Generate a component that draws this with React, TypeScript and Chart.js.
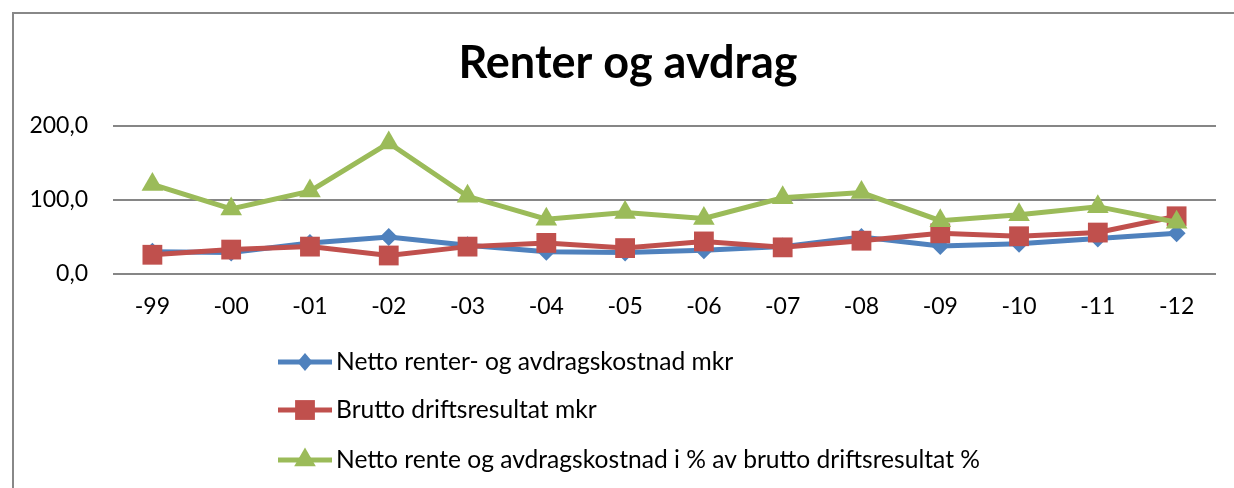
import React, { useEffect, useRef } from "react";
import { Chart, registerables } from "chart.js";

Chart.register(...registerables);

const categories = ["-99", "-00", "-01", "-02", "-03", "-04", "-05", "-06", "-07", "-08", "-09", "-10", "-11", "-12"];
const nettoRenter = [30, 29, 42, 50, 39, 30, 29, 32, 37, 50, 38, 41, 48, 55];
const bruttoDrift = [26, 33, 37, 25, 37, 42, 35, 44, 36, 45, 55, 51, 56, 78];
const nettoProsent = [121, 88, 112, 177, 105, 74, 83, 75, 103, 110, 72, 80, 91, 70];
const seriesNames = [
  "Netto renter- og avdragskostnad mkr",
  "Brutto driftsresultat mkr",
  "Netto rente og avdragskostnad i % av brutto driftsresultat %",
];
const titleText = "Renter og avdrag";

const FONT = "Lato, 'Open Sans', sans-serif";

function drawMarker(ctx: CanvasRenderingContext2D, style: string, r: number, x: number, y: number) {
  ctx.beginPath();
  if (style === "rect") {
    const s = Math.SQRT1_2 * r;
    ctx.rect(x - s, y - s, 2 * s, 2 * s);
  } else if (style === "rectRot") {
    ctx.moveTo(x, y - r);
    ctx.lineTo(x + r * 0.85, y);
    ctx.lineTo(x, y + r);
    ctx.lineTo(x - r * 0.85, y);
    ctx.closePath();
  } else {
    ctx.moveTo(x, y - r);
    ctx.lineTo(x + r * Math.cos(Math.PI / 6), y + r * 0.5);
    ctx.lineTo(x - r * Math.cos(Math.PI / 6), y + r * 0.5);
    ctx.closePath();
  }
  ctx.fill();
}

const decorPlugin = {
  id: "decor",
  afterDraw(chart: any) {
    const ctx = chart.ctx;
    ctx.save();
    ctx.fillStyle = "#000";
    ctx.font = `bold 45px ${FONT}`;
    ctx.textAlign = "center";
    ctx.textBaseline = "middle";
    ctx.fillText(titleText, 628, 63);
    ctx.restore();

    const rows = [362, 410, 460];
    chart.data.datasets.forEach((ds: any, i: number) => {
      const y = rows[i];
      ctx.save();
      ctx.strokeStyle = ds.borderColor;
      ctx.lineWidth = 5;
      ctx.beginPath();
      ctx.moveTo(278, y);
      ctx.lineTo(332, y);
      ctx.stroke();
      ctx.fillStyle = ds.pointBackgroundColor;
      drawMarker(ctx, ds.pointStyle, ds.pointRadius, 305, y);
      ctx.fillStyle = "#000";
      ctx.font = `24.6px ${FONT}`;
      ctx.textBaseline = "middle";
      ctx.textAlign = "left";
      ctx.fillText(ds.label, 336, y);
      ctx.restore();
    });
  },
};

export default function App() {
  const ref = useRef<HTMLCanvasElement | null>(null);
  useEffect(() => {
    if (!ref.current) return;
    const mk = (label: string, data: number[], color: string, style: string, r: number, order: number) => ({
      label,
      data,
      borderColor: color,
      backgroundColor: color,
      pointBackgroundColor: color,
      pointBorderColor: color,
      pointBorderWidth: 0,
      pointStyle: style,
      pointRadius: r,
      pointHoverRadius: r,
      borderWidth: 5,
      tension: 0,
      order,
    });
    const chart = new Chart(ref.current, {
      type: "line",
      data: {
        labels: categories,
        datasets: [
          mk(seriesNames[0], nettoRenter, "#4F81BD", "rectRot", 9, 2),
          mk(seriesNames[1], bruttoDrift, "#C0504D", "rect", 14, 1),
          mk(seriesNames[2], nettoProsent, "#9BBB59", "triangle", 12.5, 0),
        ] as any,
      },
      options: {
        animation: false,
        responsive: false,
        layout: { padding: { left: 0, right: 18, top: 126, bottom: 0 } },
        plugins: {
          legend: { display: false },
          tooltip: { enabled: false },
          title: { display: false },
        },
        scales: {
          x: {
            offset: true,
            grid: { display: false, drawTicks: false },
            border: { display: false },
            ticks: { color: "#000", font: { family: FONT, size: 23 }, padding: 19, maxRotation: 0 },
            afterFit: (s: any) => {
              s.height = 214;
            },
          },
          y: {
            min: 0,
            max: 200,
            ticks: {
              stepSize: 100,
              color: "#000",
              font: { family: FONT, size: 23 },
              padding: 25,
              callback: (v: any) => Number(v).toFixed(1).replace(".", ","),
            },
            grid: { color: "#868686", lineWidth: 2, drawTicks: false },
            border: { display: false },
            afterFit: (s: any) => {
              s.width = 113;
            },
          },
        },
      },
      plugins: [decorPlugin],
    });
    return () => chart.destroy();
  }, []);
  return (
    <div style={{ position: "fixed", left: 0, top: 0, width: 1234, height: 488, overflow: "hidden", background: "#fff" }}>
      <div
        style={{
          position: "absolute",
          left: 12,
          top: 12,
          width: 1300,
          height: 600,
          border: "2px solid #888",
          boxSizing: "border-box",
        }}
      />
      <canvas ref={ref} width={1234} height={488} style={{ position: "absolute", left: 0, top: 0 }} />
    </div>
  );
}
